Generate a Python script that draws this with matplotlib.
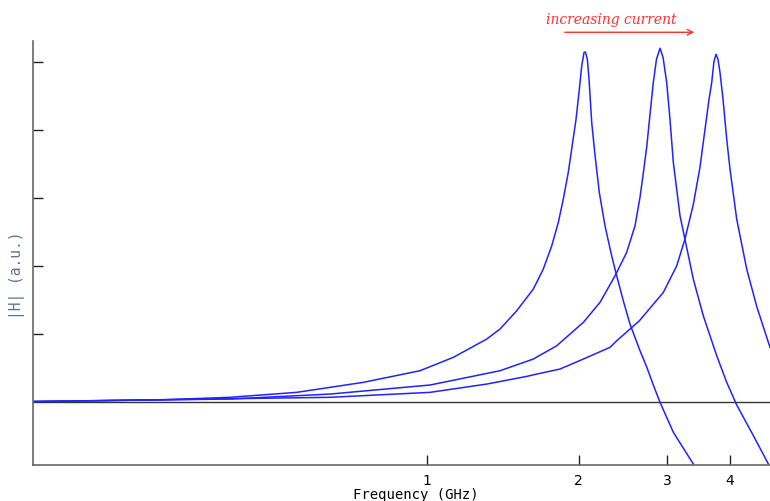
import numpy as np
import matplotlib.pyplot as plt
from matplotlib.ticker import FixedLocator, NullLocator, FixedFormatter

# valeurs (fréquence en GHz, |H| en u.a.)
f1 = [0.165, 0.299, 0.406, 0.551, 0.747, 0.968, 1.128, 1.314, 1.396, 1.507,
      1.626, 1.702, 1.769, 1.823, 1.865, 1.908, 1.938, 1.977, 2.007, 2.029,
      2.050, 2.063, 2.082, 2.098, 2.124, 2.157, 2.199, 2.257, 2.327, 2.381,
      2.455, 2.530, 2.641, 2.732, 2.815, 2.903, 3.085, 3.380]
h1 = [0.0, 0.026, 0.062, 0.135, 0.282, 0.453, 0.650, 0.919, 1.066, 1.335,
      1.654, 1.949, 2.291, 2.635, 2.978, 3.371, 3.713, 4.154, 4.596, 4.938,
      5.135, 5.144, 5.037, 4.743, 4.106, 3.615, 3.076, 2.585, 2.144, 1.850,
      1.478, 1.140, 0.772, 0.507, 0.243, -0.012, -0.453, -0.919]

f2 = [0.165, 0.406, 0.642, 1.014, 1.396, 1.626, 1.810, 2.044, 2.206, 2.363,
      2.492, 2.589, 2.649, 2.689, 2.732, 2.773, 2.815, 2.856, 2.903, 2.943,
      2.993, 3.038, 3.085, 3.181, 3.253, 3.380, 3.538, 3.762, 3.938, 4.122,
      4.447, 4.764]
h2 = [0.0, 0.037, 0.110, 0.243, 0.453, 0.625, 0.821, 1.165, 1.459, 1.850,
      2.194, 2.585, 3.007, 3.360, 3.750, 4.228, 4.694, 5.037, 5.199, 5.066,
      4.694, 4.154, 3.518, 2.732, 2.390, 1.801, 1.262, 0.674, 0.282, -0.050,
      -0.500, -0.919]

f3 = [0.165, 0.642, 1.014, 1.314, 1.578, 1.652, 1.837, 2.044, 2.309, 2.381,
      2.641, 2.947, 3.133, 3.253, 3.380, 3.485, 3.566, 3.632, 3.677, 3.715,
      3.750, 3.784, 3.819, 3.872, 3.938, 3.998, 4.122, 4.315, 4.517, 4.800]
h3 = [0.0, 0.062, 0.135, 0.257, 0.370, 0.404, 0.478, 0.625, 0.797, 0.894,
      1.188, 1.606, 1.997, 2.390, 2.900, 3.450, 4.007, 4.449, 4.694, 5.007,
      5.110, 5.037, 4.841, 4.449, 3.860, 3.419, 2.684, 1.950, 1.400, 0.797]

xticks = [1, 2, 3, 4]
xticklabels = ['1', '2', '3', '4']
yticks = [1, 2, 3, 4, 5]

fig = plt.figure(figsize=(7.7, 5.02), dpi=100)
ax = fig.add_axes([33/770, 36/502, 1 - 33/770, (466 - 41.7)/502])

ax.axhline(0, color='#333333', lw=1.0)
for f, h in [(f1, h1), (f2, h2), (f3, h3)]:
    ax.plot(f, h, color='#2222ff', lw=1.1)

ax.set_xscale('log')
ax.set_xlim(0.165, 4.80)
ax.set_ylim(-0.934, 5.31)
ax.xaxis.set_major_locator(FixedLocator(xticks))
ax.xaxis.set_major_formatter(FixedFormatter(xticklabels))
ax.xaxis.set_minor_locator(NullLocator())
ax.set_yticks(yticks)
ax.set_yticklabels([])
ax.tick_params(direction='in', length=7, width=1, color='#222222',
               labelsize=10, pad=6)
for s in ['top', 'right']:
    ax.spines[s].set_visible(False)
for s in ['left', 'bottom']:
    ax.spines[s].set_color('#666666')
    ax.spines[s].set_linewidth(1.2)

ax.set_xlabel('Frequency (GHz)', family='DejaVu Sans Mono', fontsize=10,
              va='top')
ax.xaxis.set_label_coords(0.52, -0.052)
ax.set_ylabel('|H| (a.u.)', family='DejaVu Sans Mono', fontsize=10.5,
              color='#5a7597', va='center')
ax.yaxis.set_label_coords(-0.022, 0.45)

# flèche "increasing current"
ax.annotate('', xy=(3.438, 5.434), xytext=(1.854, 5.434),
            arrowprops=dict(arrowstyle='->', color='#ff3030', lw=1),
            annotation_clip=False)
ax.text(2.32, 5.63, 'increasing current', color='#ff3030', style='italic',
        family='DejaVu Serif', fontsize=10, ha='center', va='center',
        clip_on=False)

plt.savefig('out.png', dpi=100)
